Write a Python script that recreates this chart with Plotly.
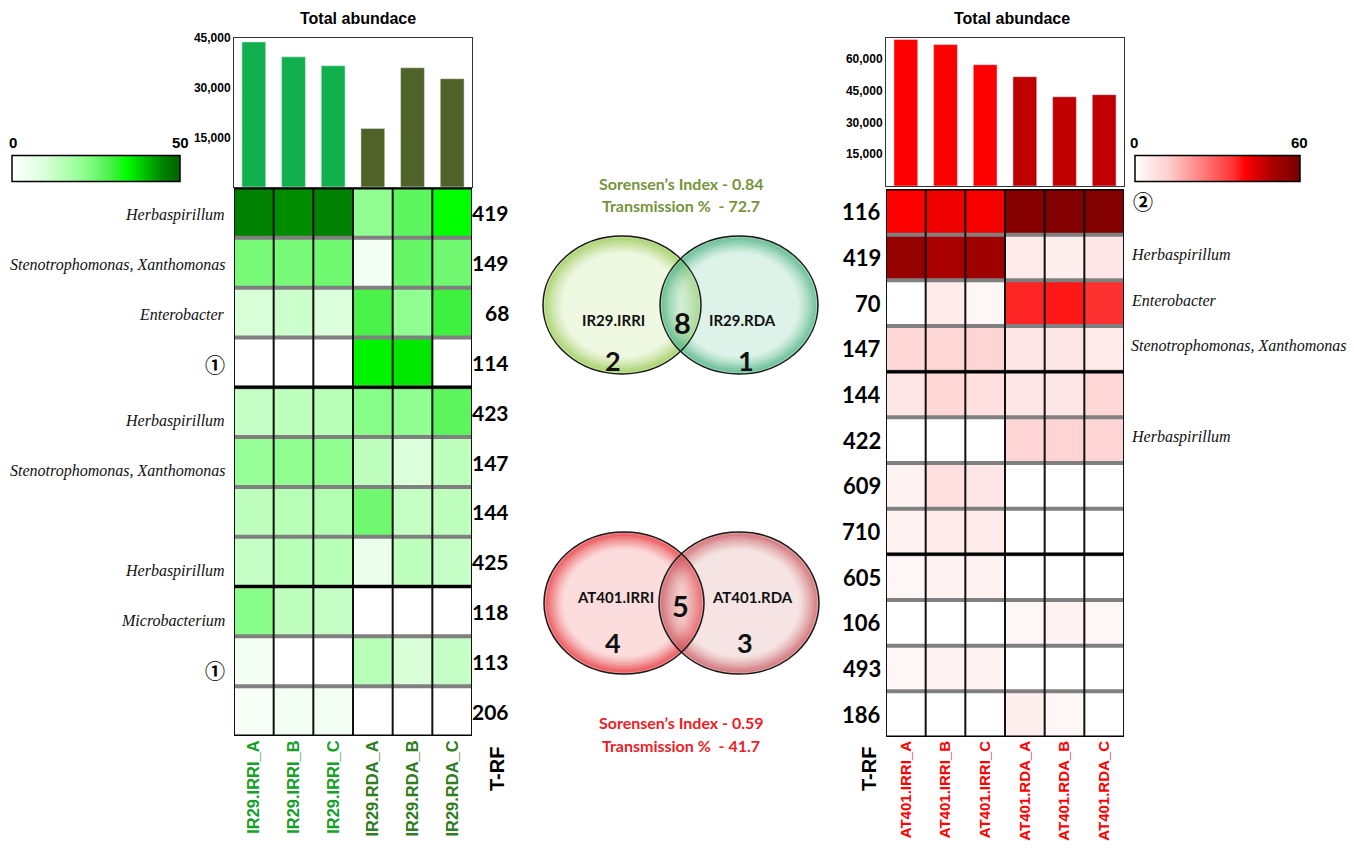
import plotly.graph_objects as go

W, H = 1354, 850

# ------------------------- data -------------------------
left_samples = ["IR29.IRRI_A", "IR29.IRRI_B", "IR29.IRRI_C", "IR29.RDA_A", "IR29.RDA_B", "IR29.RDA_C"]
left_totals = [43800, 39300, 36600, 17700, 36000, 32700]
left_trf = ["419", "149", "68", "114", "423", "147", "144", "425", "118", "113", "206"]
left_taxa = ["Herbaspirillum", "Stenotrophomonas, Xanthomonas", "Enterobacter", "①",
             "Herbaspirillum", "Stenotrophomonas, Xanthomonas", "", "Herbaspirillum",
             "Microbacterium", "①", ""]
left_groups = [4, 4, 3]
left_z = [
    [45, 44, 45, 21, 27, 34],
    [24, 24, 25, 3, 26, 25],
    [10, 12, 9, 29, 21, 30],
    [0, 0, 0, 35, 36, 0],
    [13, 14, 15, 22, 21, 27],
    [20, 21, 21, 14, 9, 14],
    [14, 15, 16, 25, 13, 14],
    [13, 15, 15, 5, 14, 13],
    [22, 14, 13, 0, 0, 0],
    [3, 0, 0, 15, 10, 13],
    [2, 3, 3, 0, 0, 0],
]

right_samples = ["AT401.IRRI_A", "AT401.IRRI_B", "AT401.IRRI_C", "AT401.RDA_A", "AT401.RDA_B", "AT401.RDA_C"]
right_totals = [69300, 66900, 57400, 51700, 42200, 43200]
right_trf = ["116", "419", "70", "147", "144", "422", "609", "710", "605", "106", "493", "186"]
right_taxa = ["②", "Herbaspirillum", "Enterobacter", "Stenotrophomonas, Xanthomonas", "",
              "Herbaspirillum", "", "", "", "", "", ""]
right_groups = [4, 4, 4]
right_z = [
    [40, 42, 41, 57, 58, 58],
    [54, 50, 52, 5, 4, 6],
    [0, 5, 2, 37, 38, 36],
    [10, 10, 11, 6, 6, 5],
    [6, 10, 8, 6, 6, 10],
    [0, 0, 0, 11, 11, 11],
    [3, 8, 6, 0, 0, 0],
    [3, 5, 5, 0, 0, 0],
    [2, 3, 3, 0, 0, 0],
    [0, 0, 0, 2, 3, 2],
    [2, 3, 3, 0, 0, 0],
    [0, 0, 0, 4, 2, 0],
]

ir29_names = ["IR29.IRRI", "IR29.RDA"]
ir29_counts = [2, 8, 1]          # IRRI only, shared, RDA only
ir29_stats = ["0.84", "72.7"]   # Sorensen's index, transmission %
at401_names = ["AT401.IRRI", "AT401.RDA"]
at401_counts = [4, 5, 3]
at401_stats = ["0.59", "41.7"]

left_zmax, right_zmax = 50, 60
left_bar_colors = ["#12B04C"] * 3 + ["#4F6228"] * 3
right_bar_colors = ["#FF0000"] * 3 + ["#C00000"] * 3
left_lab_colors = ["#16A02A"] * 3 + ["#2E7D1E"] * 3
right_lab_colors = ["#FF0000"] * 6

green_scale = [[0, "#ffffff"], [0.2, "#d8ffd8"], [0.4, "#98ff98"], [0.5, "#70f870"],
               [0.6, "#40f040"], [0.68, "#00ff00"], [0.74, "#00dd00"], [0.9, "#008000"],
               [1, "#006400"]]
red_scale = [[0, "#ffffff"], [0.1, "#ffe6e6"], [0.2, "#ffd0d0"], [0.6, "#ff3030"],
             [0.667, "#ff0000"], [0.83, "#aa0000"], [1, "#780000"]]


def px(p):
    return p / W


def py(p):
    return 1 - p / H


LB = (234, 472, 38, 187)
LH = (234, 472, 188, 736)
RB = (886, 1124, 38, 186)
RH = (886, 1124, 189, 737)

NUM_FONT = "Lato, Open Sans, sans-serif"
SERIF = "Liberation Serif, Times New Roman, serif"
ARIAL = "Liberation Sans, Arial, sans-serif"
NARROW = "Liberation Sans Narrow, Arial Narrow, Liberation Sans, Arial, sans-serif"
CJK = "Noto Sans CJK SC, DejaVu Sans, sans-serif"

fig = go.Figure()

ncol = len(left_samples)
cb_common = dict(orientation="h", yanchor="bottom", lenmode="pixels", thickness=26,
                 outlinewidth=1.5, outlinecolor="black", showticklabels=False, ticks="",
                 xpad=0, ypad=0, xanchor="left")
fig.add_trace(go.Bar(x=list(range(ncol)), y=left_totals, marker_color=left_bar_colors,
                     width=0.6, xaxis="x", yaxis="y", hoverinfo="skip"))
fig.add_trace(go.Heatmap(z=left_z, x=list(range(ncol)), y=list(range(len(left_trf))),
                         colorscale=green_scale, zmin=0, zmax=left_zmax, xaxis="x2", yaxis="y2",
                         hoverinfo="skip",
                         colorbar=dict(x=px(12), y=py(183), len=168, **cb_common)))
fig.add_trace(go.Bar(x=list(range(ncol)), y=right_totals, marker_color=right_bar_colors,
                     width=0.6, xaxis="x3", yaxis="y3", hoverinfo="skip"))
fig.add_trace(go.Heatmap(z=right_z, x=list(range(ncol)), y=list(range(len(right_trf))),
                         colorscale=red_scale, zmin=0, zmax=right_zmax, xaxis="x4", yaxis="y4",
                         hoverinfo="skip",
                         colorbar=dict(x=px(1135), y=py(183), len=165, **cb_common)))


def bar_axes(box, ymax):
    x0, x1, y0, y1 = box
    xa = dict(domain=[px(x0), px(x1)], range=[-0.5, ncol - 0.5], showticklabels=False,
              showline=True, mirror=True, linecolor="#333333", linewidth=1, ticks="",
              showgrid=False, zeroline=False, automargin=False)
    ya = dict(domain=[py(y1), py(y0)], range=[0, ymax], tickvals=[15000, 30000, 45000, 60000],
              tickformat=",", showline=True, mirror=True, linecolor="#333333", linewidth=1,
              ticks="", showgrid=False, zeroline=False, automargin=False,
              tickfont=dict(family=ARIAL, size=12, color="black", weight="bold"))
    return xa, ya


def heat_axes(box, samples, colors, nrow, lab_size):
    x0, x1, y0, y1 = box
    ticktext = [f"<span style='color:{c}'>{s}</span>" for s, c in zip(samples, colors)]
    xa = dict(domain=[px(x0), px(x1)], range=[-0.5, ncol - 0.5], tickvals=list(range(ncol)),
              ticktext=ticktext, tickangle=-90, ticks="", showgrid=False, zeroline=False,
              showline=False, automargin=False,
              tickfont=dict(family=NARROW, size=lab_size, weight="bold"))
    ya = dict(domain=[py(y1), py(y0)], range=[nrow - 0.5, -0.5], showticklabels=False,
              showgrid=False, zeroline=False, showline=False, ticks="", automargin=False)
    return xa, ya


xa1, ya1 = bar_axes(LB, 45000)
xa2, ya2 = heat_axes(LH, left_samples, left_lab_colors, len(left_trf), 16.5)
xa3, ya3 = bar_axes(RB, 70000)
xa4, ya4 = heat_axes(RH, right_samples, right_lab_colors, len(right_trf), 15)
xa1["anchor"], ya1["anchor"] = "y", "x"
xa2["anchor"], ya2["anchor"] = "y2", "x2"
xa3["anchor"], ya3["anchor"] = "y3", "x3"
xa4["anchor"], ya4["anchor"] = "y4", "x4"

shapes = []
annotations = []


def note(text, x, y, size, family, color="black", xanchor="center", yanchor="middle", **kw):
    annotations.append(dict(text=text, x=px(x), y=py(y), xref="paper", yref="paper",
                            xanchor=xanchor, yanchor=yanchor, showarrow=False,
                            font=dict(family=family, size=size, color=color), **kw))


def grid(xr, yr, nrow, groups):
    for j in range(1, nrow):
        shapes.append(dict(type="line", xref=xr, yref=yr, x0=-0.5, x1=ncol - 0.5,
                           y0=j - 0.5, y1=j - 0.5, line=dict(color="#808080", width=4)))
    for i in range(ncol + 1):
        shapes.append(dict(type="line", xref=xr, yref=yr, x0=i - 0.5, x1=i - 0.5,
                           y0=-0.5, y1=nrow - 0.5, line=dict(color="#111111", width=2)))
    bounds = [0]
    acc = 0
    for g in groups:
        acc += g
        bounds.append(acc)
    for b in bounds:
        shapes.append(dict(type="line", xref=xr, yref=yr, x0=-0.5, x1=ncol - 0.5,
                           y0=b - 0.5, y1=b - 0.5, line=dict(color="#000000", width=3)))


grid("x2", "y2", len(left_trf), left_groups)
grid("x4", "y4", len(right_trf), right_groups)


def group_of(i, groups):
    acc = 0
    for k, g in enumerate(groups):
        acc += g
        if i < acc:
            return k
    return len(groups) - 1


left_shift = [-2, -9, -9]
for i, t in enumerate(left_trf):
    annotations.append(dict(text=t, x=px(511), xref="paper", xanchor="right", y=i, yref="y2",
                            yanchor="middle", showarrow=False,
                            font=dict(family=NUM_FONT, size=21, color="black", weight="bold")))
    lab = left_taxa[i]
    if lab:
        if lab in ("①", "②"):
            f = dict(family=CJK, size=20, color="black", weight="bold")
            txt = lab
        else:
            f = dict(family=SERIF, size=16, color="#111111")
            txt = f"<i>{lab}</i>"
        annotations.append(dict(text=txt, x=px(227), xref="paper", xanchor="right", y=i,
                                yref="y2", yanchor="middle",
                                yshift=left_shift[group_of(i, left_groups)],
                                showarrow=False, font=f))

for i, t in enumerate(right_trf):
    annotations.append(dict(text=t, x=px(883), xref="paper", xanchor="right", y=i, yref="y4",
                            yanchor="middle", showarrow=False,
                            font=dict(family=NUM_FONT, size=22, color="black", weight="bold")))
    lab = right_taxa[i]
    if lab:
        if lab in ("①", "②"):
            annotations.append(dict(text=lab, x=px(1131), xref="paper", xanchor="left", y=i,
                                    yref="y4", yanchor="middle", yshift=10, showarrow=False,
                                    font=dict(family=CJK, size=20, color="black", weight="bold")))
        else:
            annotations.append(dict(text=f"<i>{lab}</i>", x=px(1129), xref="paper",
                                    xanchor="left", y=i, yref="y4", yanchor="middle", yshift=3,
                                    showarrow=False,
                                    font=dict(family=SERIF, size=16, color="#111111")))

for cx in (358, 1012):
    note("<b>Total abundace</b>", cx, 19, 16, ARIAL)

for cx in (497, 869):
    note("<b>T-RF</b>", cx, 769, 20, ARIAL, textangle=-90)

for txt, cx in (("0", 13), (str(left_zmax), 180), ("0", 1134), (str(right_zmax), 1299)):
    note(f"<b>{txt}</b>", cx, 143, 15, NARROW)


# ------------------------- Venn diagrams -------------------------
def ellipse(cx, cy, rx, ry, s=1.0, **kw):
    return dict(type="circle", xref="paper", yref="paper",
                x0=px(cx - rx * s), x1=px(cx + rx * s), y0=py(cy + ry * s), y1=py(cy - ry * s),
                **kw)


RINGS = [(0.975, 0.45), (0.95, 0.38), (0.925, 0.31), (0.90, 0.25), (0.875, 0.19),
         (0.85, 0.14), (0.825, 0.10), (0.80, 0.06), (0.775, 0.035)]


def venn(cy, cxl, cxr, rx, ry, fills, rims, names, counts, stat_lines, stat_ys, stat_color,
         name_pos, count_pos):
    for cx, fill, rim in ((cxl, fills[0], rims[0]), (cxr, fills[1], rims[1])):
        shapes.append(ellipse(cx, cy, rx, ry, fillcolor=fill, line=dict(width=0)))
        for s, a in RINGS:
            shapes.append(ellipse(cx, cy, rx, ry, s, fillcolor="rgba(0,0,0,0)",
                                  line=dict(color=f"rgba({rim},{a})", width=4)))
    for cx in (cxl, cxr):
        shapes.append(ellipse(cx, cy, rx, ry, fillcolor="rgba(0,0,0,0)",
                              line=dict(color="#1a1a1a", width=1.5)))
    for nm, (x, y) in zip(names, name_pos):
        note(f"<b>{nm}</b>", x, y, 15, NUM_FONT, color="#111111")
    for c, (x, y, sz) in zip(counts, count_pos):
        note(f"<b>{c}</b>", x, y, sz, NUM_FONT, color="#111111")
    for line, y in zip(stat_lines, stat_ys):
        note(f"<b>{line}</b>", 681, y, 16, NUM_FONT, color=stat_color)


venn(305, 622, 739, 79, 69,
     ("rgba(215,238,180,0.40)", "rgba(170,225,200,0.40)"),
     ("150,200,80", "70,175,125"),
     ir29_names, ir29_counts,
     [f"Sorensen’s Index - {ir29_stats[0]}", f"Transmission %  - {ir29_stats[1]}"],
     (184, 206), "#77933C",
     ((613, 320), (742, 320)),
     ((613, 360, 27), (682, 322, 29), (746, 360, 27)))

venn(603, 624, 739, 80, 71,
     ("rgba(245,150,150,0.32)", "rgba(225,165,167,0.30)"),
     ("230,45,50", "200,85,92"),
     at401_names, at401_counts,
     [f"Sorensen’s Index - {at401_stats[0]}", f"Transmission %  - {at401_stats[1]}"],
     (722, 745), "#EE1C25",
     ((615, 597), (752, 597)),
     ((613, 642, 27), (680, 605, 29), (745, 642, 27)))

fig.update_layout(
    width=W, height=H, margin=dict(l=0, r=0, t=0, b=0, autoexpand=False),
    paper_bgcolor="white", plot_bgcolor="white", showlegend=False,
    xaxis=xa1, yaxis=ya1, xaxis2=xa2, yaxis2=ya2, xaxis3=xa3, yaxis3=ya3,
    xaxis4=xa4, yaxis4=ya4, shapes=shapes, annotations=annotations,
)

fig.write_html("out.html", config={"displayModeBar": False},
               post_script="document.body.style.margin='0px';document.body.style.padding='0px';")
